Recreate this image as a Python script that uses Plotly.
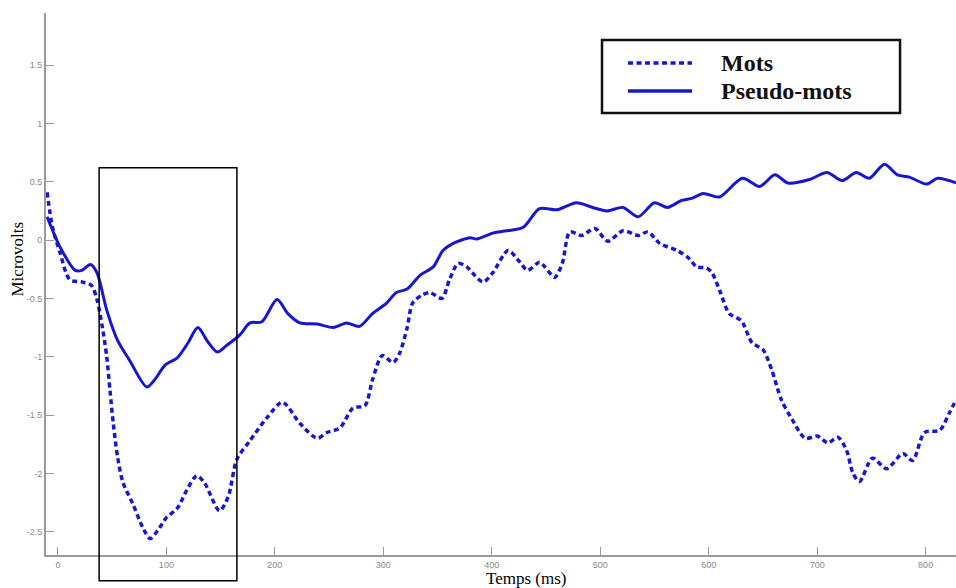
import plotly.graph_objects as go

# Time axis (ms) and ERP amplitude (µV) for each condition
mots_ms = [-10, -5, 2, 11, 23, 31, 36, 41, 45, 48, 51, 55, 60, 69, 78, 85, 92, 100, 110,
           119, 128, 135, 149, 157, 165, 177, 193, 207, 223, 239, 248, 260, 272, 283, 290,
           299, 309, 315, 322, 327, 336, 343, 354, 361, 369, 377, 382, 392, 401, 415, 426,
           433, 444, 449, 458, 465, 472, 483, 495, 507, 521, 535, 544, 555, 571, 581, 589,
           598, 603, 610, 619, 630, 640, 650, 658, 667, 677, 689, 700, 710, 719, 727, 733,
           739, 751, 764, 779, 788, 799, 813, 822, 828]
mots_uv = [0.41, 0.11, -0.11, -0.34, -0.36, -0.39, -0.51, -0.75, -1.00, -1.29, -1.57, -1.86,
           -2.08, -2.26, -2.46, -2.56, -2.49, -2.38, -2.30, -2.14, -2.02, -2.08, -2.32, -2.20,
           -1.88, -1.72, -1.52, -1.39, -1.57, -1.70, -1.65, -1.61, -1.44, -1.42, -1.20, -0.99,
           -1.05, -0.97, -0.75, -0.54, -0.47, -0.45, -0.50, -0.34, -0.20, -0.23, -0.28, -0.36,
           -0.28, -0.09, -0.19, -0.26, -0.19, -0.23, -0.32, -0.20, 0.07, 0.04, 0.10, -0.01,
           0.08, 0.04, 0.07, -0.03, -0.09, -0.15, -0.23, -0.24, -0.28, -0.43, -0.63, -0.69,
           -0.88, -0.94, -1.11, -1.37, -1.54, -1.70, -1.68, -1.74, -1.69, -1.80, -2.00, -2.07,
           -1.87, -1.96, -1.83, -1.89, -1.65, -1.63, -1.48, -1.37]

pseudo_ms = [-10, 2, 16, 22, 30, 36, 45, 55, 66, 82, 89, 99, 110, 120, 129, 138, 147, 156,
             168, 177, 188, 202, 212, 223, 239, 254, 266, 278, 290, 303, 312, 322, 334, 346,
             355, 364, 380, 386, 401, 414, 429, 444, 460, 478, 493, 506, 521, 535, 550, 562,
             575, 585, 595, 610, 631, 647, 661, 673, 693, 709, 723, 736, 748, 762, 774, 785,
             801, 811, 828]
pseudo_uv = [0.20, -0.06, -0.26, -0.26, -0.21, -0.28, -0.60, -0.86, -1.03, -1.26, -1.20,
             -1.07, -1.01, -0.88, -0.75, -0.87, -0.96, -0.90, -0.81, -0.71, -0.70, -0.51,
             -0.63, -0.71, -0.72, -0.75, -0.71, -0.74, -0.63, -0.54, -0.45, -0.42, -0.30,
             -0.23, -0.09, -0.03, 0.02, 0.01, 0.06, 0.08, 0.11, 0.27, 0.26, 0.32, 0.28, 0.25,
             0.28, 0.20, 0.32, 0.28, 0.34, 0.36, 0.40, 0.37, 0.53, 0.46, 0.56, 0.49, 0.52,
             0.58, 0.51, 0.58, 0.53, 0.65, 0.56, 0.54, 0.48, 0.53, 0.49]

x_ticks = [0, 100, 200, 300, 400, 500, 600, 700, 800]
y_ticks = [-2.5, -2, -1.5, -1, -0.5, 0, 0.5, 1, 1.5]
y_tick_text = ["-2.5", "-2", "-1.5", "-1", "-0.5", "0", "0.5", "1", "1.5"]

X_RANGE = [-11, 828]
Y_RANGE = [-2.70, 1.947]

# Highlighted analysis window (ms, µV)
window_ms = [38, 165]
window_uv = [-2.92, 0.62]

BLUE = "#1717cf"
DOT = "5px,3.5px"


def px_x(v):
    return (v - X_RANGE[0]) / (X_RANGE[1] - X_RANGE[0])


def px_y(v):
    return (v - Y_RANGE[0]) / (Y_RANGE[1] - Y_RANGE[0])


fig = go.Figure()
fig.add_trace(go.Scatter(x=mots_ms, y=mots_uv, mode="lines", name="Mots",
                         line=dict(color=BLUE, width=3.5, dash=DOT, shape="spline",
                                   smoothing=0.8),
                         showlegend=False))
fig.add_trace(go.Scatter(x=pseudo_ms, y=pseudo_uv, mode="lines", name="Pseudo-mots",
                         line=dict(color=BLUE, width=3, shape="spline", smoothing=0.8),
                         showlegend=False))

shapes = [
    # analysis window box
    dict(type="rect", xref="paper", yref="paper",
         x0=px_x(window_ms[0]), x1=px_x(window_ms[1]),
         y0=px_y(window_uv[0]), y1=px_y(window_uv[1]),
         line=dict(color="black", width=1.5), fillcolor="rgba(0,0,0,0)", layer="above"),
    # legend frame
    dict(type="rect", xref="paper", yref="paper", x0=0.611, x1=0.9385, y0=0.8155, y1=0.950,
         line=dict(color="#111111", width=2.5), fillcolor="white", layer="above"),
    # legend samples
    dict(type="line", xref="paper", yref="paper", x0=0.6396, x1=0.7099, y0=0.9077, y1=0.9077,
         line=dict(color=BLUE, width=3.5, dash=DOT), layer="above"),
    dict(type="line", xref="paper", yref="paper", x0=0.6396, x1=0.7099, y0=0.856, y1=0.856,
         line=dict(color=BLUE, width=3.5), layer="above"),
]

serif = "Liberation Serif"
annotations = [
    dict(text="<b>Mots</b>", xref="paper", yref="paper", x=0.7396, y=0.9077,
         xanchor="left", yanchor="middle", showarrow=False,
         font=dict(family=serif, size=24, color="#111111")),
    dict(text="<b>Pseudo-mots</b>", xref="paper", yref="paper", x=0.7396, y=0.856,
         xanchor="left", yanchor="middle", showarrow=False,
         font=dict(family=serif, size=24, color="#111111")),
    dict(text="Temps (ms)", xref="paper", yref="paper", x=0.5275, y=-0.043,
         xanchor="center", yanchor="middle", showarrow=False,
         font=dict(family=serif, size=17, color="black")),
    dict(text="Microvolts", xref="paper", yref="paper", x=-0.0308, y=0.547,
         xanchor="center", yanchor="middle", textangle=-90, showarrow=False,
         font=dict(family=serif, size=17, color="black")),
]

fig.update_layout(
    width=956, height=588, autosize=False,
    margin=dict(l=46, r=0, t=13, b=33),
    paper_bgcolor="white", plot_bgcolor="white",
    shapes=shapes, annotations=annotations,
)
fig.update_xaxes(range=X_RANGE, tickvals=x_ticks, ticks="inside", ticklen=8,
                 tickcolor="#9a9a9a", tickwidth=1.2, showline=True, linecolor="#9a9a9a",
                 linewidth=2, showgrid=False, zeroline=False,
                 tickfont=dict(family="Liberation Sans", size=9, color="#8a8a8a"))
fig.update_yaxes(range=Y_RANGE, tickvals=y_ticks, ticktext=y_tick_text, ticks="inside",
                 ticklen=8, tickcolor="#9a9a9a", tickwidth=1.2, showline=True,
                 linecolor="#9a9a9a", linewidth=2, showgrid=False, zeroline=False,
                 tickfont=dict(family="Liberation Sans", size=9, color="#8a8a8a"))

fig.write_html("out.html")
